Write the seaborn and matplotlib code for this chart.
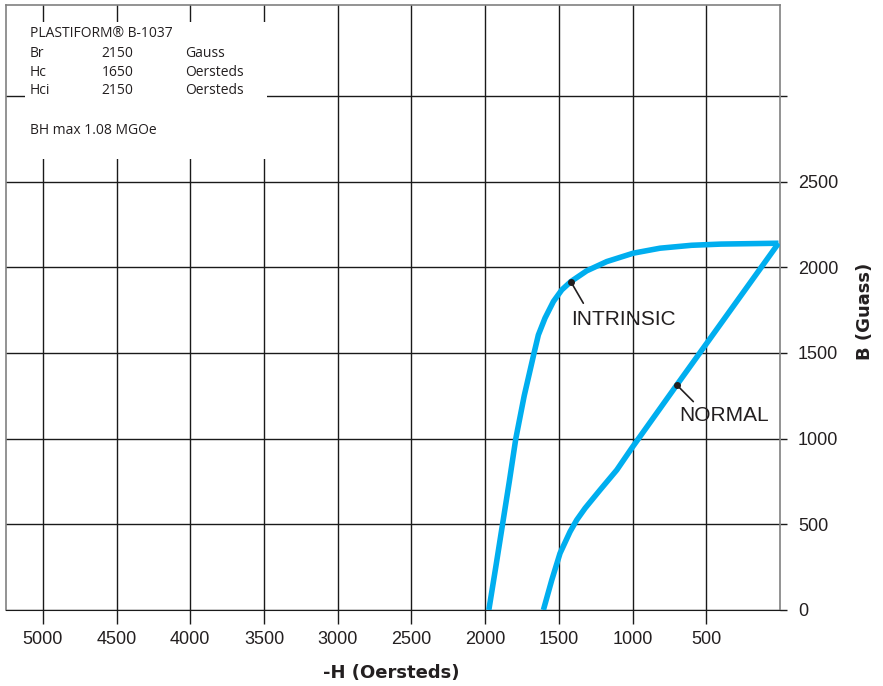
import matplotlib.pyplot as plt
import seaborn as sns
from matplotlib.patches import Rectangle

# demagnetization curves (H in Oersteds, B in Gauss)
intrinsic_h = [1975, 1928, 1882, 1836, 1792, 1735, 1668, 1639, 1594, 1537, 1480, 1419,
               1311, 1175, 995, 814, 600, 400, 10]
intrinsic_b = [0, 250, 500, 750, 1000, 1250, 1500, 1605, 1703, 1800, 1868, 1916,
               1979, 2033, 2082, 2111, 2128, 2135, 2140]
normal_h = [1605, 1548, 1492, 1424, 1379, 1322, 1221, 1107, 1006, 700, 10]
normal_b = [0, 175, 331, 457, 525, 594, 700, 817, 944, 1313, 2140]

# leader lines for the curve names (dot end first)
intrinsic_ptr_h = [1419, 1334]
intrinsic_ptr_b = [1916, 1790]
normal_ptr_h = [700, 588]
normal_ptr_b = [1313, 1216]

x_ticks = [500, 1000, 1500, 2000, 2500, 3000, 3500, 4000, 4500, 5000]
x_labels = [str(v) for v in x_ticks]
y_ticks = [0, 500, 1000, 1500, 2000, 2500, 3000]
y_labels = ["0", "500", "1000", "1500", "2000", "2500", ""]

title_line = "PLASTIFORM\u00ae B-1037"
spec_names = ["Br", "Hc", "Hci"]
spec_values = ["2150", "1650", "2150"]
spec_units = ["Gauss", "Oersteds", "Oersteds"]
bh_line = "BH max 1.08 MGOe"

sns.set_style("white")
plt.rcParams["font.family"] = ["Liberation Sans", "DejaVu Sans"]

W, H = 883, 686
fig = plt.figure(figsize=(W / 100, H / 100), dpi=100)
ax = fig.add_axes([6 / W, 1 - 610 / H, 774 / W, 605 / H])

blue = "#00aeef"
sns.lineplot(x=intrinsic_h, y=intrinsic_b, sort=False, estimator=None, color=blue, lw=4,
             solid_joinstyle="round", solid_capstyle="butt", ax=ax, zorder=3)
sns.lineplot(x=normal_h, y=normal_b, sort=False, estimator=None, color=blue, lw=4,
             solid_joinstyle="round", solid_capstyle="butt", ax=ax, zorder=3)

for ph, pb in [(intrinsic_ptr_h, intrinsic_ptr_b), (normal_ptr_h, normal_ptr_b)]:
    ax.plot(ph, pb, color="#231f20", lw=1.2, zorder=4)
    ax.plot(ph[:1], pb[:1], "o", color="#231f20", ms=4, zorder=4)

ax.text(1419, 1664, "INTRINSIC", fontsize=15, color="#231f20", ha="left", va="baseline", zorder=5)
ax.text(683, 1105, "NORMAL", fontsize=15, color="#231f20", ha="left", va="baseline", zorder=5)

ax.set_xlim(5250, 0)
ax.set_ylim(0, 3530)
ax.set_xticks(x_ticks)
ax.set_xticklabels(x_labels)
ax.set_yticks(y_ticks)
ax.set_yticklabels(y_labels)
ax.yaxis.tick_right()
ax.set_xlabel("")
ax.set_ylabel("")

ax.set_axisbelow(True)
ax.grid(True, color="#1a1a1a", lw=1.0)
ax.tick_params(axis="x", bottom=True, length=10, width=1.0, color="#1a1a1a", pad=5,
               labelsize=13, labelcolor="#231f20")
ax.tick_params(axis="y", right=True, left=False, length=5, width=1.0, color="#1a1a1a", pad=8,
               labelsize=13, labelcolor="#231f20")
for side in ["top", "left", "right"]:
    ax.spines[side].set_color("#808080")
    ax.spines[side].set_linewidth(1.2)
ax.spines["bottom"].set_color("#1a1a1a")

# white panel holding the material data
ax.add_patch(Rectangle((19 / 774, 451 / 605), 242 / 774, 137 / 605, transform=ax.transAxes,
                       facecolor="white", edgecolor="none", zorder=1.5))

box_font = dict(family="Open Sans", fontsize=10, color="#231f20", va="baseline")
fig.text(30 / W, 1 - 37.3 / H, title_line, **box_font)
for i, (n, v, u) in enumerate(zip(spec_names, spec_values, spec_units)):
    y = 1 - [56.7, 75.7, 94.0][i] / H
    fig.text(30 / W, y, n, **box_font)
    fig.text(101.7 / W, y, v, **box_font)
    fig.text(185 / W, y, u, **box_font)
fig.text(30 / W, 1 - 134 / H, bh_line, **box_font)

fig.text(390.8 / W, 1 - 678.3 / H, "-H (Oersteds)", family="DejaVu Sans", fontweight="bold",
         fontsize=13, color="#231f20", ha="center", va="baseline")
fig.text(865 / W, 1 - 311 / H, "B (Guass)", family="DejaVu Sans", fontweight="bold",
         fontsize=13, color="#231f20", ha="center", va="center", rotation=90)

fig.savefig("out.png", dpi=100)
